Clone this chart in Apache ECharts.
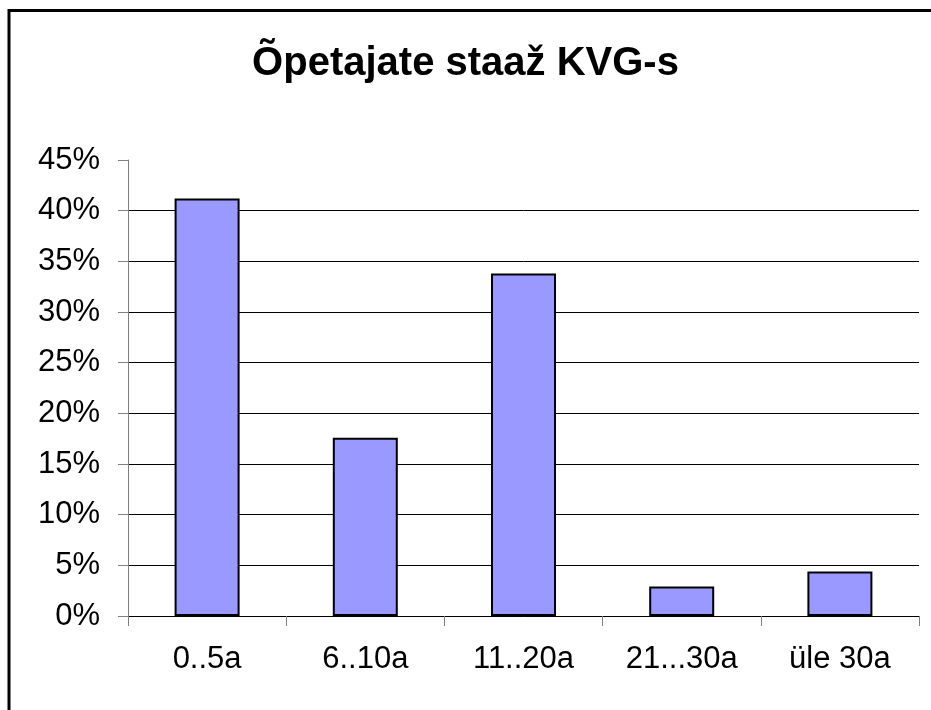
<!DOCTYPE html>
<html>
<head>
<meta charset="utf-8">
<script src="https://cdn.jsdelivr.net/npm/echarts@6/dist/echarts.min.js"></script>
<style>
html,body{margin:0;padding:0;background:#fff;}
#chart{width:931px;height:710px;}
</style>
</head>
<body>
<div id="chart"></div>
<script>
// andmed
var categories=['0..5a','6..10a','11..20a','21...30a','üle 30a'];
var values=[41.2,17.6,33.8,2.9,4.4];
var yTicks=[0,5,10,15,20,25,30,35,40,45];

var myChart=echarts.init(document.getElementById('chart'));
var option={
    backgroundColor:'#fff',
    animation:false,
    title:{
        text:'Õpetajate staaž KVG-s',
        left:'center',
        top:39,
        textStyle:{fontFamily:'Liberation Sans',fontSize:40,fontWeight:'bold',color:'#000'}
    },
    graphic:[{
        type:'rect',
        shape:{x:9,y:10.5,width:960,height:760},
        style:{fill:'none',stroke:'#000',lineWidth:3},
        silent:true
    }],
    grid:{left:128,right:12,top:160,bottom:94,containLabel:false},
    xAxis:{
        type:'category',
        data:categories,
        axisLine:{lineStyle:{color:'#000',width:1}},
        axisTick:{show:true,length:10,lineStyle:{color:'#808080'}},
        axisLabel:{margin:28,fontFamily:'Liberation Sans',fontSize:31,color:'#000'}
    },
    yAxis:{
        type:'value',
        min:yTicks[0],
        max:yTicks[yTicks.length-1],
        interval:5,
        axisLine:{show:true,lineStyle:{color:'#808080',width:1}},
        axisTick:{show:true,length:10,lineStyle:{color:'#808080'}},
        axisLabel:{margin:28,fontFamily:'Liberation Sans',fontSize:31,color:'#000',formatter:'{value}%'},
        splitLine:{show:true,showMaxLine:false,lineStyle:{color:'#000',width:1}}
    },
    series:[{
        type:'bar',
        data:values,
        barWidth:65,
        itemStyle:{color:'#9999FF',borderColor:'#000',borderWidth:2}
    }]
};
myChart.setOption(option);
</script>
</body>
</html>
